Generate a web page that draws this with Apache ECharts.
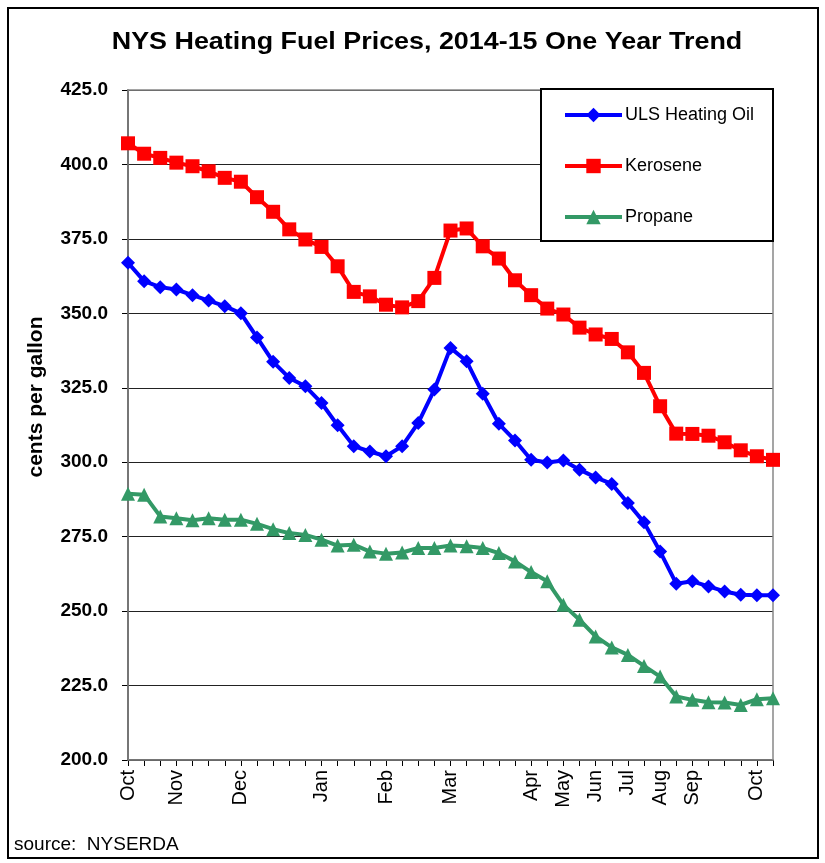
<!DOCTYPE html>
<html>
<head>
<meta charset="utf-8">
<script src="https://cdn.jsdelivr.net/npm/echarts@6/dist/echarts.min.js"></script>
<style>html,body{margin:0;padding:0;background:#fff}#c{width:825px;height:863px}</style>
</head>
<body>
<div id="c"></div>
<script>
const categories = ['Oct','','','Nov','','','','Dec','','','','','Jan','','','','Feb','','','','Mar','','','','','Apr','','May','','Jun','','Jul','','Aug','','Sep','','','','Oct',''];
const heatingOil = [367.0,360.8,358.8,358.0,356.1,354.3,352.4,350.0,341.9,333.7,328.3,325.5,319.9,312.4,305.4,303.6,302.0,305.4,313.2,324.4,338.4,333.9,323.0,312.9,307.3,300.8,299.9,300.6,297.5,294.9,292.7,286.3,279.8,270.0,259.2,260.0,258.3,256.6,255.5,255.3,255.3];
const kerosene = [407.1,403.6,402.2,400.6,399.4,397.7,395.5,394.2,389.0,384.1,378.2,374.8,372.3,365.8,357.2,355.7,352.9,352.0,354.1,361.9,377.8,378.5,372.5,368.4,361.1,356.1,351.6,349.6,345.2,342.9,341.4,336.9,330.0,318.8,309.6,309.5,308.9,306.7,304.0,302.0,300.8];
const propane = [289.4,289.1,281.8,281.2,280.5,281.2,280.7,280.7,279.3,277.5,276.2,275.6,274.0,272.0,272.3,270.0,269.3,269.7,271.2,271.2,272.0,271.8,271.2,269.5,266.7,263.1,260.0,252.1,247.1,241.5,237.8,235.3,231.6,228.0,221.3,220.2,219.4,219.3,218.5,220.4,220.7];
const seriesNames = ['ULS Heating Oil','Kerosene','Propane'];
const yTicks = {min:200, max:425, interval:25};
const titleText = 'NYS Heating Fuel Prices, 2014-15 One Year Trend';
const yAxisTitle = 'cents per gallon';
const sourceText = 'source:  NYSERDA';

const chart = echarts.init(document.getElementById('c'), null, {renderer:'canvas'});
const font = 'Liberation Sans, Arial, sans-serif';
chart.setOption({
  animation:false,
  backgroundColor:'#fff',
  grid:{left:128,right:52,top:90,bottom:103},
  legend:{orient:'vertical',left:558,top:101,itemGap:33,itemWidth:57,itemHeight:18,z:10,
    lineStyle:{width:4},
    textStyle:{fontFamily:font,fontSize:18,color:'#000',padding:[0,0,0,-2]},data:seriesNames},
  xAxis:{type:'category',data:categories,boundaryGap:false,
    axisLine:{lineStyle:{color:'#000',width:1.5}},
    axisTick:{show:true,interval:0,length:6,lineStyle:{color:'#000'}},
    axisLabel:{interval:0,rotate:90,fontFamily:font,fontSize:20,color:'#000',margin:10},
    splitLine:{show:false}},
  yAxis:{type:'value',min:yTicks.min,max:yTicks.max,interval:yTicks.interval,
    axisLine:{show:true,lineStyle:{color:'#000',width:1.5}},
    axisTick:{show:true,length:6,lineStyle:{color:'#000'}},
    axisLabel:{fontFamily:font,fontSize:19,fontWeight:'bold',color:'#000',margin:20,
      formatter:v=>v.toFixed(1)},
    splitLine:{show:true,lineStyle:{color:'#222',width:1.2}}},
  graphic:[
    {type:'rect',shape:{x:8,y:8,width:810,height:850},style:{fill:'none',stroke:'#000',lineWidth:2},z:-1},
    {type:'rect',shape:{x:128,y:90,width:645,height:670},style:{fill:'none',stroke:'#888',lineWidth:1.5},z:1},
    {type:'rect',shape:{x:541,y:89,width:232,height:152},style:{fill:'#fff',stroke:'#000',lineWidth:2},z:5},
    {type:'text',x:427,y:42,scaleX:1.12,originX:0,originY:0,z:5,
      style:{text:titleText,fontFamily:font,fontSize:24,fontWeight:'bold',fill:'#000',align:'center',verticalAlign:'middle'}},
    {type:'text',x:36,y:397,rotation:Math.PI/2,originX:0,originY:0,z:5,
      style:{text:yAxisTitle,fontFamily:font,fontSize:21,fontWeight:'bold',fill:'#000',align:'center',verticalAlign:'middle'}},
    {type:'text',x:14,y:845,z:5,
      style:{text:sourceText,fontFamily:font,fontSize:19,fill:'#000',align:'left',verticalAlign:'middle'}}
  ],
  series:[
    {name:seriesNames[0],type:'line',data:heatingOil,symbol:'diamond',symbolSize:14,
      lineStyle:{color:'#0000ff',width:4},itemStyle:{color:'#0000ff'},z:3},
    {name:seriesNames[1],type:'line',data:kerosene,symbol:'rect',symbolSize:14,
      lineStyle:{color:'#ff0000',width:4},itemStyle:{color:'#ff0000'},z:3},
    {name:seriesNames[2],type:'line',data:propane,symbol:'triangle',symbolSize:14,
      lineStyle:{color:'#339966',width:4},itemStyle:{color:'#339966'},z:3}
  ]
});
</script>
</body>
</html>
